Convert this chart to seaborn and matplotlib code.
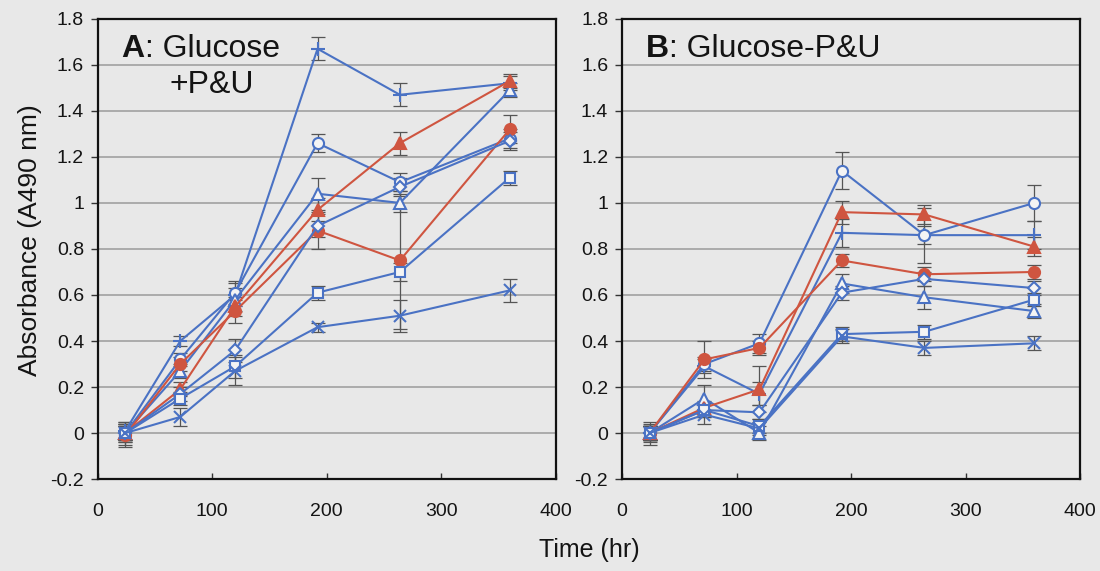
import matplotlib
matplotlib.use("Agg")
import matplotlib.pyplot as plt
import seaborn as sns
import numpy as np

# ---------------- data ----------------
time = [24, 72, 120, 192, 264, 360]

series_names = ["plus", "circle", "tri", "redtri", "redcirc", "diam", "sq", "x"]

A_plus    = [0.01, 0.40, 0.60, 1.67, 1.47, 1.52]
A_circle  = [0.00, 0.32, 0.61, 1.26, 1.09, 1.28]
A_tri     = [0.00, 0.27, 0.58, 1.04, 1.00, 1.49]
A_redtri  = [0.00, 0.19, 0.55, 0.97, 1.26, 1.53]
A_redcirc = [-0.01, 0.30, 0.53, 0.88, 0.75, 1.32]
A_diam    = [0.00, 0.17, 0.36, 0.90, 1.07, 1.27]
A_sq      = [0.00, 0.15, 0.29, 0.61, 0.70, 1.11]
A_x       = [0.00, 0.07, 0.27, 0.46, 0.51, 0.62]

A_plus_err    = [0.04, 0.02, 0.05, 0.05, 0.05, 0.03]
A_circle_err  = [0.04, 0.03, 0.05, 0.04, 0.04, 0.04]
A_tri_err     = [0.05, 0.03, 0.05, 0.07, 0.04, 0.03]
A_redtri_err  = [0.04, 0.03, 0.04, 0.05, 0.05, 0.03]
A_redcirc_err = [0.05, 0.03, 0.05, 0.08, 0.30, 0.06]
A_diam_err    = [0.03, 0.03, 0.05, 0.05, 0.04, 0.04]
A_sq_err      = [0.03, 0.03, 0.05, 0.03, 0.04, 0.03]
A_x_err       = [0.03, 0.04, 0.06, 0.02, 0.07, 0.05]

B_plus    = [0.00, 0.29, 0.17, 0.87, 0.86, 0.86]
B_circle  = [0.00, 0.30, 0.39, 1.14, 0.86, 1.00]
B_tri     = [0.00, 0.15, 0.00, 0.65, 0.59, 0.53]
B_redtri  = [0.00, 0.11, 0.19, 0.96, 0.95, 0.81]
B_redcirc = [0.00, 0.32, 0.37, 0.75, 0.69, 0.70]
B_diam    = [0.00, 0.10, 0.09, 0.61, 0.67, 0.63]
B_sq      = [0.00, 0.10, 0.03, 0.43, 0.44, 0.58]
B_x       = [0.00, 0.08, 0.02, 0.42, 0.37, 0.39]

B_plus_err    = [0.03, 0.03, 0.05, 0.06, 0.04, 0.06]
B_circle_err  = [0.04, 0.03, 0.04, 0.08, 0.12, 0.08]
B_tri_err     = [0.03, 0.06, 0.03, 0.04, 0.05, 0.03]
B_redtri_err  = [0.03, 0.03, 0.10, 0.05, 0.04, 0.04]
B_redcirc_err = [0.05, 0.08, 0.03, 0.03, 0.03, 0.03]
B_diam_err    = [0.03, 0.03, 0.03, 0.03, 0.03, 0.03]
B_sq_err      = [0.03, 0.03, 0.03, 0.03, 0.03, 0.03]
B_x_err       = [0.03, 0.04, 0.03, 0.03, 0.03, 0.03]

y_ticks = [-0.2, 0, 0.2, 0.4, 0.6, 0.8, 1, 1.2, 1.4, 1.6, 1.8]
y_tick_labels = ["-0.2", "0", "0.2", "0.4", "0.6", "0.8", "1", "1.2", "1.4", "1.6", "1.8"]
x_ticks = [0, 100, 200, 300, 400]
x_tick_labels = ["0", "100", "200", "300", "400"]

panel_A_title = ["A", ": Glucose", "+P&U"]
panel_B_title = ["B", ": Glucose-P&U", ""]
y_label = "Absorbance (A490 nm)"
x_label = "Time (hr)"

# ---------------- style ----------------
BLUE = "#4a72c4"
RED = "#cf5540"
BG = "#e8e8e8"
INK = "#141414"

styles = {
    "plus":    dict(color=BLUE, marker="+", mfc=BLUE, ms=10),
    "circle":  dict(color=BLUE, marker="o", mfc="#f4f4f4", ms=8),
    "tri":     dict(color=BLUE, marker="^", mfc="#f4f4f4", ms=8.5),
    "redtri":  dict(color=RED, marker="^", mfc=RED, ms=9),
    "redcirc": dict(color=RED, marker="o", mfc=RED, ms=8),
    "diam":    dict(color=BLUE, marker="D", mfc="#f4f4f4", ms=6.5),
    "sq":      dict(color=BLUE, marker="s", mfc="#f4f4f4", ms=7.5),
    "x":       dict(color=BLUE, marker="x", mfc=BLUE, ms=9),
}

sns.set_theme(style="white")
plt.rcParams["font.family"] = ["Liberation Sans", "DejaVu Sans"]
plt.rcParams["text.color"] = INK
plt.rcParams["xtick.color"] = INK
plt.rcParams["ytick.color"] = INK

fig = plt.figure(figsize=(11, 5.71), dpi=100, facecolor=BG)
axA = fig.add_axes([0.089, 0.161, 0.416, 0.806])
axB = fig.add_axes([0.5655, 0.161, 0.4164, 0.806])

panels = [
    (axA, [A_plus, A_circle, A_tri, A_redtri, A_redcirc, A_diam, A_sq, A_x],
     [A_plus_err, A_circle_err, A_tri_err, A_redtri_err, A_redcirc_err, A_diam_err, A_sq_err, A_x_err],
     panel_A_title),
    (axB, [B_plus, B_circle, B_tri, B_redtri, B_redcirc, B_diam, B_sq, B_x],
     [B_plus_err, B_circle_err, B_tri_err, B_redtri_err, B_redcirc_err, B_diam_err, B_sq_err, B_x_err],
     panel_B_title),
]

for ax, vals, errs, title in panels:
    ax.set_facecolor(BG)
    for yt in y_ticks[1:]:
        ax.axhline(yt, color="#9a9a9a", lw=1.1, zorder=0)
    for name, v, e in zip(series_names, vals, errs):
        ax.errorbar(time, v, yerr=e, fmt="none", ecolor="#555555",
                    elinewidth=0.9, capsize=5, capthick=0.9, zorder=2)
    for name, v in zip(series_names, vals):
        st = styles[name]
        sns.lineplot(x=time, y=v, ax=ax, color=st["color"], marker=st["marker"],
                     markerfacecolor=st["mfc"], markeredgecolor=st["color"],
                     markersize=st["ms"], markeredgewidth=1.5, linewidth=1.5,
                     zorder=3, legend=False)
    ax.set_xlim(0, 400)
    ax.set_ylim(-0.2, 1.8)
    ax.set_yticks(y_ticks)
    ax.set_yticklabels(y_tick_labels, fontsize=14)
    ax.set_xticks(x_ticks)
    ax.set_xticklabels(x_tick_labels, fontsize=14)
    ax.tick_params(axis="y", direction="out", length=5, width=1, color="#333333", pad=5, left=True)
    ax.tick_params(axis="x", direction="in", length=4, width=1, color="#333333", pad=17, bottom=True)
    for sp in ax.spines.values():
        sp.set_color("#111111")
        sp.set_linewidth(1.6)
        sp.set_visible(True)
    ax.set_xlabel("")
    ax.set_ylabel("")
    t = ax.text(0.052, 0.917, title[0], transform=ax.transAxes, fontsize=23,
                fontweight="bold", va="baseline", ha="left", zorder=5)
    fig.canvas.draw()
    bb = t.get_window_extent().transformed(ax.transAxes.inverted())
    ax.text(bb.x1, 0.917, title[1], transform=ax.transAxes, fontsize=23,
            va="baseline", ha="left", zorder=5)
    if title[2]:
        ax.text(0.157, 0.839, title[2], transform=ax.transAxes, fontsize=23,
                va="baseline", ha="left", zorder=5)

fig.text(0.027, 0.58, y_label, rotation=90, fontsize=19, va="center", ha="center")
fig.text(0.536, 0.037, x_label, fontsize=18, va="center", ha="center")

fig.savefig("out.png", dpi=100, facecolor=BG)
